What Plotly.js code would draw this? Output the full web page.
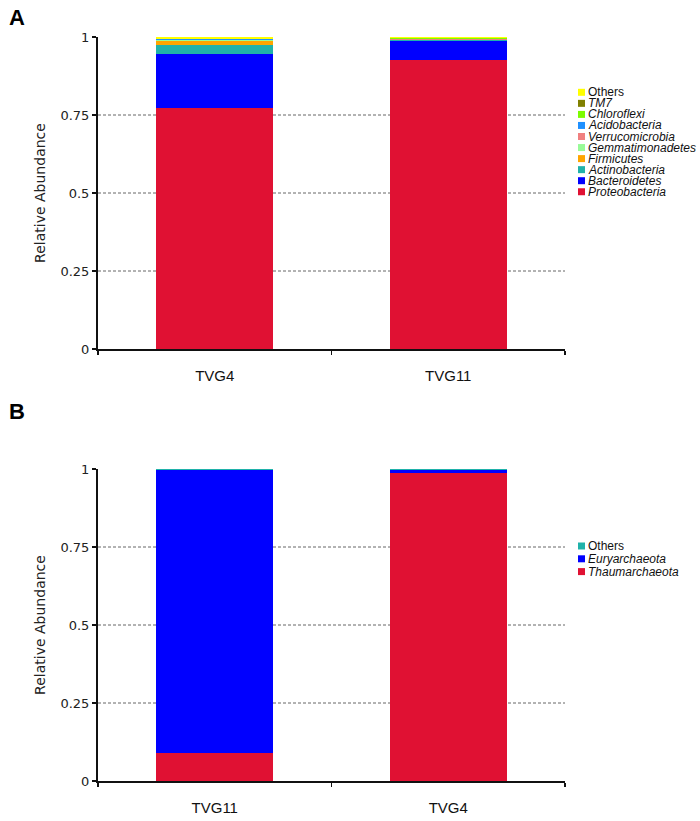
<!DOCTYPE html>
<html>
<head>
<meta charset="utf-8">
<script src="https://cdn.plot.ly/plotly-3.0.1.min.js"></script>
<style>html,body{margin:0;padding:0;background:#fff;}#chart{width:700px;height:821px;}</style>
</head>
<body>
<div id="chart"></div>
<script>
// ---------- Panel A data (bacteria) ----------
const samplesA = ['TVG4', 'TVG11'];
const phylaA = ['Proteobacteria', 'Bacteroidetes', 'Actinobacteria', 'Firmicutes', 'Gemmatimonadetes',
                'Verrucomicrobia', 'Acidobacteria', 'Chloroflexi', 'TM7', 'Others'];
const colorsA = ['#E01133', '#0000FF', '#20B2AA', '#FFA500', '#98FB98',
                 '#F08080', '#1E90FF', '#7CFC00', '#808000', '#FFFF00'];
const proteobacteria   = [0.771, 0.926];
const bacteroidetes    = [0.174, 0.062];
const actinobacteria   = [0.029, 0.002];
const firmicutes       = [0.013, 0.001];
const gemmatimonadetes = [0.002, 0.001];
const verrucomicrobia  = [0.002, 0.001];
const acidobacteria    = [0.002, 0.002];
const chloroflexi      = [0.001, 0.001];
const tm7              = [0.001, 0.0005];
const othersA          = [0.005, 0.0035];
const valuesA = [proteobacteria, bacteroidetes, actinobacteria, firmicutes, gemmatimonadetes,
                 verrucomicrobia, acidobacteria, chloroflexi, tm7, othersA];

// ---------- Panel B data (archaea) ----------
const samplesB = ['TVG11', 'TVG4'];
const phylaB = ['Thaumarchaeota', 'Euryarchaeota', 'Others'];
const colorsB = ['#E01133', '#0000FF', '#20B2AA'];
const thaumarchaeota = [0.089, 0.987];
const euryarchaeota  = [0.908, 0.011];
const othersB        = [0.003, 0.002];
const valuesB = [thaumarchaeota, euryarchaeota, othersB];

const yTickVals = [0, 0.25, 0.5, 0.75, 1];
const yTickText = ['0', '0.25', '0.5', '0.75', '1'];
const gridVals = [0.25, 0.5, 0.75];

// ---------- layout geometry (pixels) ----------
const W = 700, H = 821;
const L = 98, R = 135, T = 37, B = 40;
const PW = W - L - R, PH = H - T - B;
const px2x = p => (p - L) / PW;
const py2y = p => 1 - (p - T) / PH;

const traces = [];
phylaA.forEach((name, i) => {
  traces.push({type: 'bar', x: samplesA, y: valuesA[i], name: name, xaxis: 'x', yaxis: 'y',
    marker: {color: colorsA[i], line: {width: 0}}, showlegend: false, hoverinfo: 'name+y'});
});
phylaB.forEach((name, i) => {
  traces.push({type: 'bar', x: samplesB, y: valuesB[i], name: name, xaxis: 'x2', yaxis: 'y2',
    marker: {color: colorsB[i], line: {width: 0}}, showlegend: false, hoverinfo: 'name+y'});
});

const tickFont = {family: 'DejaVu Sans, sans-serif', size: 13, color: '#222'};
const xFont = {family: 'Liberation Sans, Arial, sans-serif', size: 15, color: '#111'};
const titleFont = {family: 'DejaVu Sans, sans-serif', size: 14, color: '#222'};

function yAxis(domain) {
  return {domain: domain, range: [0, 1], tickvals: yTickVals, ticktext: yTickText,
    showline: true, linewidth: 2, linecolor: '#111', ticks: 'outside', ticklen: 4,
    tickwidth: 1.5, tickcolor: '#111', showgrid: false, zeroline: false, tickfont: tickFont,
    automargin: false, fixedrange: true,
    title: {text: 'Relative Abundance', font: titleFont, standoff: 12}};
}
function xAxis(anchor, cats) {
  return {anchor: anchor, type: 'category', categoryorder: 'array', categoryarray: cats,
    range: [-0.5, 1.5], showline: true, linewidth: 2, linecolor: '#111', ticks: 'outside',
    tickson: 'boundaries', ticklen: 4, tickwidth: 1.5, tickcolor: '#111', showgrid: false,
    zeroline: false, tickfont: xFont, automargin: false, fixedrange: true, ticklabelstandoff: 12};
}

const domA = [py2y(349), 1];
const domB = [0, py2y(469)];

const shapes = [];
gridVals.forEach(v => {
  shapes.push({type: 'line', xref: 'x domain', yref: 'y', x0: 0, x1: 1, y0: v, y1: v,
    line: {color: '#666', width: 1, dash: '3px,2px'}, layer: 'below'});
  shapes.push({type: 'line', xref: 'x2 domain', yref: 'y2', x0: 0, x1: 1, y0: v, y1: v,
    line: {color: '#666', width: 1, dash: '3px,2px'}, layer: 'below'});
});

const annotations = [];
const legFont = {family: 'Liberation Sans, Arial, sans-serif', size: 12, color: '#111'};
function addLegend(names, colors, topY, step) {
  const n = names.length;
  for (let k = 0; k < n; k++) {
    const idx = n - 1 - k;           // reversed order: top entry is the last stacked series
    const cy = topY + k * step;
    const nm = names[idx] === 'Others' ? 'Others' : '<i>' + names[idx] + '</i>';
    annotations.push({xref: 'paper', yref: 'paper', x: px2x(587), y: py2y(cy), xanchor: 'left',
      yanchor: 'middle', text: nm, showarrow: false, font: legFont, borderpad: 0});
    shapes.push({type: 'rect', xref: 'paper', yref: 'paper', x0: px2x(578), x1: px2x(585),
      y0: py2y(cy - 3.5), y1: py2y(cy + 3.5), fillcolor: colors[idx], line: {width: 0}});
  }
}
addLegend(phylaA, colorsA, 92.3, 11.05);
addLegend(phylaB, colorsB, 546, 12.8);

const letterFont = {family: 'Liberation Sans, Arial, sans-serif', size: 22, color: '#000'};
annotations.push({xref: 'paper', yref: 'paper', x: px2x(17), y: py2y(18), xanchor: 'center',
  yanchor: 'middle', text: '<b>A</b>', showarrow: false, font: letterFont});
annotations.push({xref: 'paper', yref: 'paper', x: px2x(17), y: py2y(411), xanchor: 'center',
  yanchor: 'middle', text: '<b>B</b>', showarrow: false, font: letterFont});

const layout = {
  width: W, height: H, margin: {l: L, r: R, t: T, b: B},
  paper_bgcolor: '#fff', plot_bgcolor: '#fff',
  barmode: 'stack', bargap: 0.5, showlegend: false,
  xaxis: xAxis('y', samplesA), yaxis: yAxis(domA),
  xaxis2: xAxis('y2', samplesB), yaxis2: yAxis(domB),
  shapes: shapes, annotations: annotations
};

Plotly.newPlot('chart', traces, layout, {displayModeBar: false, staticPlot: true});
</script>
</body>
</html>
